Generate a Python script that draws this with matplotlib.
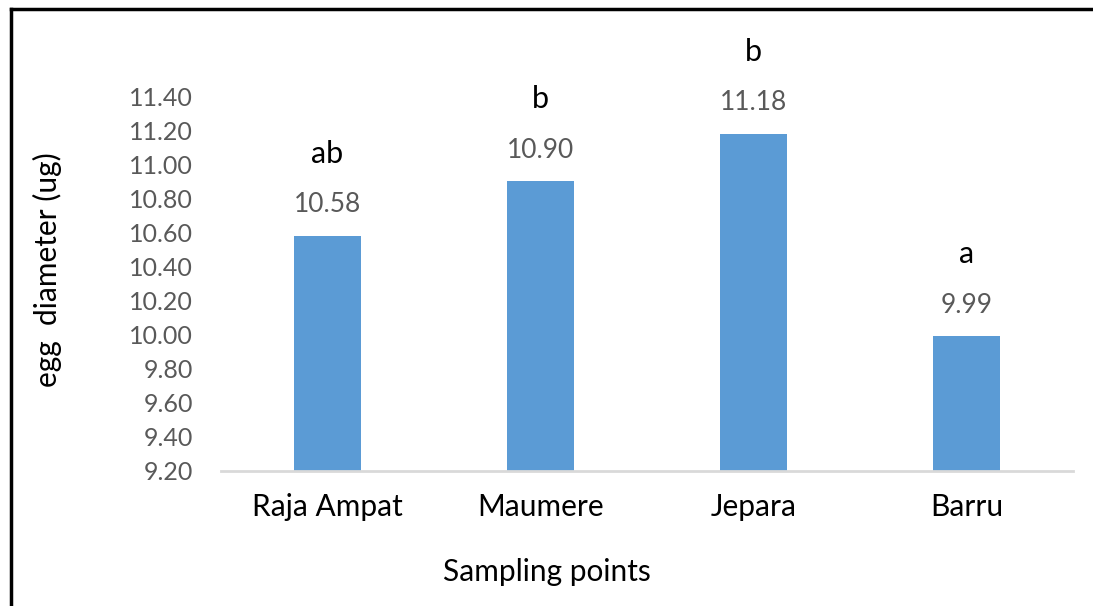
import matplotlib
matplotlib.use("Agg")
import matplotlib.pyplot as plt
from matplotlib.lines import Line2D

categories = ["Raja Ampat", "Maumere", "Jepara", "Barru"]
values = [10.58, 10.90, 11.18, 9.99]
value_labels = ["10.58", "10.90", "11.18", "9.99"]
letters = ["ab", "b", "b", "a"]
yticks = [9.20, 9.40, 9.60, 9.80, 10.00, 10.20, 10.40, 10.60, 10.80, 11.00, 11.20, 11.40]

plt.rcParams['font.family'] = ['Lato', 'DejaVu Sans']

fig = plt.figure(figsize=(10.93, 6.06), dpi=100)
ax = fig.add_axes([221/1093, 1 - 471/606, (1073 - 221)/1093, (471 - 96)/606])

x = list(range(len(categories)))
ax.bar(x, values, width=0.315, color="#5B9BD5", bottom=0)
ax.set_xlim(-0.5, len(categories) - 0.5)
ax.set_ylim(9.2, 11.4)
ax.set_yticks(yticks)
ax.set_yticklabels([f"{t:.2f}" for t in yticks], color="#595959", fontsize=18)
ax.set_xticks(x)
ax.set_xticklabels(categories, fontsize=21.5, color="black")
ax.tick_params(axis='y', length=0, pad=20)
ax.tick_params(axis='x', length=0, pad=16)

for s in ["top", "right", "left"]:
    ax.spines[s].set_visible(False)
ax.spines["bottom"].set_color("#d9d9d9")
ax.spines["bottom"].set_linewidth(2)

for xi, v, vl, lt in zip(x, values, value_labels, letters):
    ax.annotate(vl, (xi, v), xytext=(0, 22.3), textcoords="offset points",
                ha="center", va="center", fontsize=19, color="#595959")
    ax.annotate(lt, (xi, v), xytext=(0, 59), textcoords="offset points",
                ha="center", va="center", fontsize=22, color="black")

fig.text(547/1093, 1 - 572/606, "Sampling points", ha="center", va="center", fontsize=21.5)
fig.text(47/1093, 1 - 270/606, "egg  diameter (ug)", ha="center", va="center",
         rotation=90, fontsize=21.5)

# outer frame (left and top edges visible)
fig.add_artist(Line2D([11/1093, 11/1093], [0, 1 - 8.5/606], transform=fig.transFigure,
                      color="black", linewidth=2.5))
fig.add_artist(Line2D([11/1093, 1], [1 - 8.5/606, 1 - 8.5/606], transform=fig.transFigure,
                      color="black", linewidth=2.5))

fig.savefig("out.png", dpi=100)
